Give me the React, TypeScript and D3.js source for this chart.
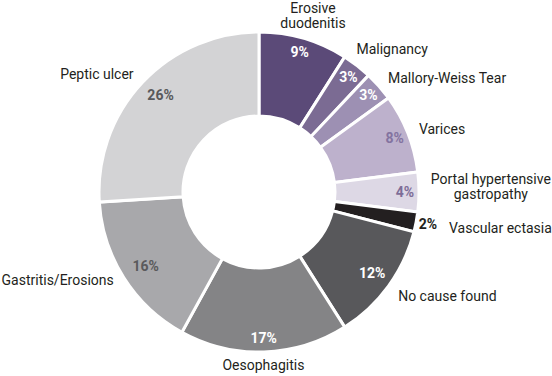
import React from "react";
import * as d3 from "d3";

const categories = [
  "Erosive duodenitis",
  "Malignancy",
  "Mallory-Weiss Tear",
  "Varices",
  "Portal hypertensive gastropathy",
  "Vascular ectasia",
  "No cause found",
  "Oesophagitis",
  "Gastritis/Erosions",
  "Peptic ulcer",
];
const values = [9, 3, 3, 8, 4, 2, 12, 17, 16, 26];
const sliceColors = [
  "#5b4a78",
  "#7b6b93",
  "#9d90b3",
  "#bdb1cc",
  "#ddd8e5",
  "#231f20",
  "#58585b",
  "#848486",
  "#a8a8ab",
  "#d3d3d5",
];
const valueColors = [
  "#ffffff",
  "#ffffff",
  "#ffffff",
  "#8373a0",
  "#7d6d98",
  "#231f20",
  "#ffffff",
  "#ffffff",
  "#5a5a5c",
  "#58595b",
];
const lineBreaks: Record<string, string[]> = {
  "Erosive duodenitis": ["Erosive", "duodenitis"],
  "Portal hypertensive gastropathy": ["Portal hypertensive", "gastropathy"],
};

const W = 552;
const H = 376;
const cx = 259;
const cy = 192;
const rOuter = 160;
const rInner = 76;
const rValue = 146;
const rLabel = 172;
const fontFamily = "Roboto, 'Noto Sans', sans-serif";
const fs = 14;
const lineH = 15;

const nudges: Record<string, [number, number]> = {
  "Erosive duodenitis": [6, 2],
  Malignancy: [-8, -7],
  "Portal hypertensive gastropathy": [0, -6],
  "No cause found": [0, 3],
  Oesophagitis: [-1, 1],
  "Gastritis/Erosions": [0, -4],
};
const valueNudges: Record<string, [number, number]> = {
  "Peptic ulcer": [8, 3],
  "Gastritis/Erosions": [10, -4],
  "No cause found": [-5, -5],
};

export default function App() {
  const data = categories.map((c, i) => ({ c, v: values[i], i }));
  const pie = d3
    .pie<any>()
    .sort(null)
    .value((d) => d.v)
    .startAngle(0)
    .endAngle(2 * Math.PI);
  const arcs = pie(data);
  const arc = d3.arc<any>().innerRadius(rInner).outerRadius(rOuter);
  const polar = (a: number, r: number) => [cx + r * Math.sin(a), cy - r * Math.cos(a)];

  return (
    <svg
      width={W}
      height={H}
      style={{ position: "fixed", left: 0, top: 0, background: "#fff" }}
      fontFamily={fontFamily}
    >
      <g transform={`translate(${cx},${cy})`}>
        {arcs.map((a) => (
          <path
            key={a.data.c}
            d={arc(a) as string}
            fill={sliceColors[a.data.i]}
            stroke="#ffffff"
            strokeWidth={3}
          />
        ))}
      </g>
      {arcs.map((a) => {
        const mid = (a.startAngle + a.endAngle) / 2;
        const outside = a.data.v < 3;
        const [vx, vy] = polar(mid, outside ? rLabel : rValue);
        const vn = valueNudges[a.data.c] || [0, 0];
        return (
          <text
            key={"v" + a.data.c}
            x={vx + vn[0]}
            y={vy + 5 + vn[1]}
            textAnchor="middle"
            fontWeight={700}
            fontSize={fs}
            fill={valueColors[a.data.i]}
          >
            {a.data.v + "%"}
          </text>
        );
      })}
      {arcs.map((a) => {
        const mid = (a.startAngle + a.endAngle) / 2;
        const outside = a.data.v < 3;
        let [px, py] = polar(mid, rLabel);
        const s = Math.sin(mid);
        const co = Math.cos(mid);
        const lines = lineBreaks[a.data.c] || [a.data.c];
        let anchor: "start" | "middle" | "end" = Math.abs(s) < 0.35 ? "middle" : s > 0 ? "start" : "end";
        const nd = nudges[a.data.c] || [0, 0];
        px += nd[0];
        py += nd[1];
        let firstBaseline: number;
        if (outside) {
          px += 21;
          py += 4;
          anchor = "start";
          firstBaseline = py + 5;
        } else if (co > 0.9) {
          firstBaseline = py - 1 - (lines.length - 1) * lineH;
        } else {
          firstBaseline = py + 5 - ((lines.length - 1) * lineH) / 2;
        }
        let tx = px;
        let lineAnchor = anchor;
        if (lines.length > 1 && anchor === "start") {
          const approxW = Math.max(...lines.map((l) => l.length)) * fs * 0.45;
          tx = px + approxW / 2;
          lineAnchor = "middle";
        }
        return (
          <text
            key={"l" + a.data.c}
            textAnchor={lineAnchor}
            fontSize={fs}
            fill="#231f20"
          >
            {lines.map((l, k) => (
              <tspan key={k} x={tx} y={firstBaseline + k * lineH}>
                {l}
              </tspan>
            ))}
          </text>
        );
      })}
    </svg>
  );
}
